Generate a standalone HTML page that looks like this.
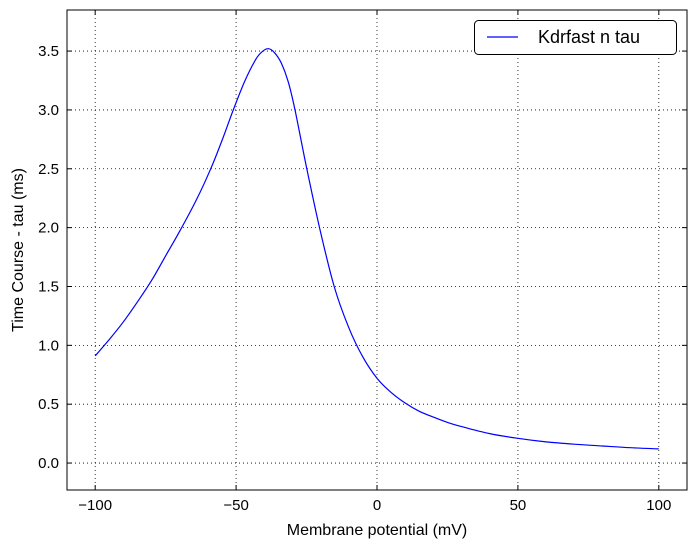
<!DOCTYPE html>
<html><head><meta charset="utf-8"><style>
body{margin:0;background:#fff;}
svg{display:block;font-family:"Liberation Sans","DejaVu Sans",sans-serif;}
</style></head><body>
<svg id="chart" width="696" height="548">
<rect width="696" height="548" fill="#fff"/>
<g id="grid"></g>
<g id="ticks"></g>
<path id="line" fill="none" stroke="#0000ff" stroke-width="1.2"/>
<rect x="67" y="10" width="620" height="480" fill="none" stroke="#000" stroke-width="1"/>
<text x="377" y="535" font-size="16" text-anchor="middle">Membrane potential (mV)</text>
<text transform="translate(23,250) rotate(-90)" font-size="16" text-anchor="middle">Time Course - tau (ms)</text>
<g>
<rect x="474.5" y="20.5" width="202" height="34" rx="4" fill="#fff" stroke="#000" stroke-width="1"/>
<line x1="487" y1="37" x2="518" y2="37" stroke="#0000ff" stroke-width="1.2"/>
<text x="538" y="43" font-size="18">Kdrfast n tau</text>
</g>
</svg>
<script>
const xs=[-100,-95,-90,-85,-80,-75,-70,-64,-59,-55,-51,-47,-43,-40.5,-38.5,-36.5,-34,-31.5,-29.1,-24.9,-20.4,-15.2,-10,-5,0,5,10,15,20,25,30,40,50,60,70,80,90,100];
const taus=[0.91,1.05,1.2,1.37,1.55,1.76,1.97,2.24,2.5,2.74,3.0,3.24,3.43,3.50,3.52,3.49,3.40,3.24,3.0,2.5,2.0,1.5,1.15,0.90,0.72,0.60,0.51,0.44,0.39,0.345,0.31,0.25,0.21,0.18,0.16,0.145,0.13,0.12];
const xTicks=[-100,-50,0,50,100];
const xTickLabels=["\u2212100","\u221250","0","50","100"];
const yTicks=[0,0.5,1,1.5,2,2.5,3,3.5];
const yTickLabels=["0.0","0.5","1.0","1.5","2.0","2.5","3.0","3.5"];
const L=67,R=687,T=10,B=490,xmin=-110,xmax=110,ymin=-0.229,ymax=3.849;
const sx=v=>L+(v-xmin)/(xmax-xmin)*(R-L);
const sy=v=>B-(v-ymin)/(ymax-ymin)*(B-T);
const NS="http://www.w3.org/2000/svg";
const grid=document.getElementById('grid'),ticks=document.getElementById('ticks');
function mk(tag,attrs,parent){const e=document.createElementNS(NS,tag);for(const k in attrs)e.setAttribute(k,attrs[k]);parent.appendChild(e);return e;}
xTicks.forEach((v,i)=>{const x=sx(v);
 const g=mk('line',{x1:x,x2:x,y1:T,y2:B,stroke:'#000','stroke-dasharray':'1,3','stroke-width':0.8},grid);
 
 
 mk('line',{x1:x,x2:x,y1:B,y2:B-5,stroke:'#000'},ticks);
 mk('line',{x1:x,x2:x,y1:T,y2:T+5,stroke:'#000'},ticks);
 const t=mk('text',{x:x,y:B+20,'font-size':15,'text-anchor':'middle'},ticks);t.textContent=xTickLabels[i];
 
 
});
yTicks.forEach((v,i)=>{const y=sy(v);
 const g=mk('line',{x1:L,x2:R,y1:y,y2:y,stroke:'#000','stroke-dasharray':'1,3','stroke-width':0.8},grid);
 
 
 mk('line',{x1:L,x2:L+5,y1:y,y2:y,stroke:'#000'},ticks);
 mk('line',{x1:R,x2:R-5,y1:y,y2:y,stroke:'#000'},ticks);
 const t=mk('text',{x:L-8,y:y+5,'font-size':15,'text-anchor':'end'},ticks);t.textContent=yTickLabels[i];
 
 
});
const P=xs.map((v,i)=>[sx(v),sy(taus[i])]);
let d='M'+P[0][0].toFixed(1)+','+P[0][1].toFixed(1);
for(let i=0;i<P.length-1;i++){
 const p0=P[Math.max(0,i-1)],p1=P[i],p2=P[i+1],p3=P[Math.min(P.length-1,i+2)];
 const c1=[p1[0]+(p2[0]-p0[0])/6,p1[1]+(p2[1]-p0[1])/6];
 const c2=[p2[0]-(p3[0]-p1[0])/6,p2[1]-(p3[1]-p1[1])/6];
 d+='C'+c1.map(n=>n.toFixed(1)).join(',')+' '+c2.map(n=>n.toFixed(1)).join(',')+' '+p2.map(n=>n.toFixed(1)).join(',');
}
document.getElementById('line').setAttribute('d',d);
</script>
</body></html>
